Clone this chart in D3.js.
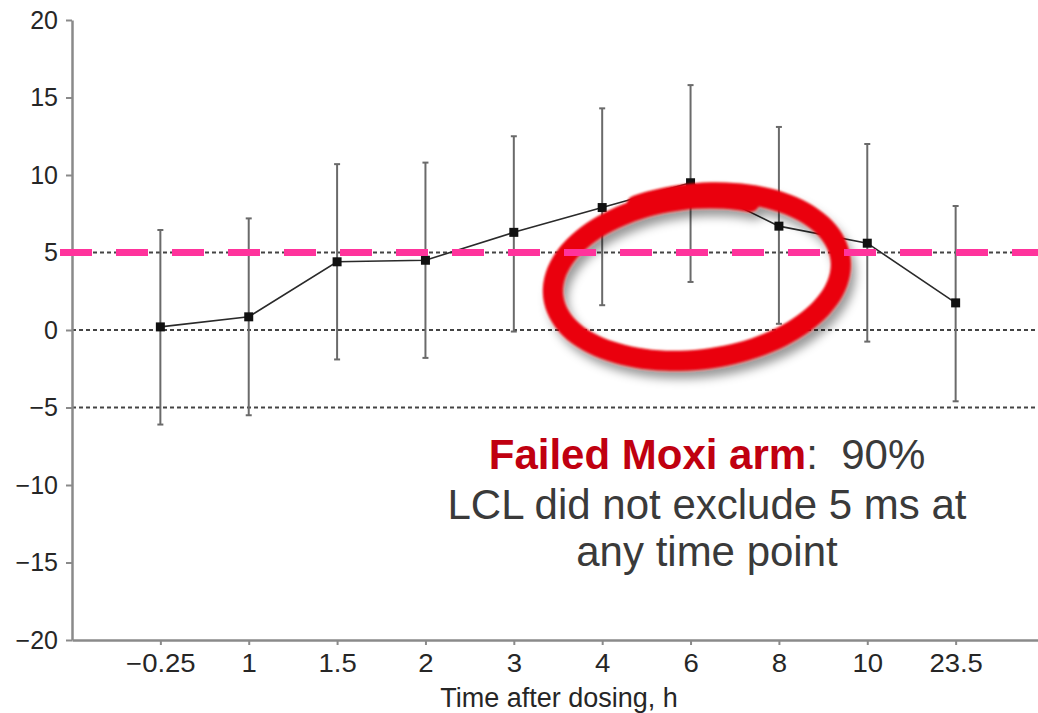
<!DOCTYPE html>
<html>
<head>
<meta charset="utf-8">
<script src="https://cdn.jsdelivr.net/npm/d3@7"></script>
<style>
  body { margin: 0; background: #fff; }
  svg { display: block; font-family: "Liberation Sans", Arial, sans-serif; }
</style>
</head>
<body>
<div id="chart"></div>
<script>
// time points (h) and QTc change estimates with 90% CI
var times = ["\u22120.25", "1", "1.5", "2", "3", "4", "6", "8", "10", "23.5"];
var means = [0.2, 0.85, 4.4, 4.5, 6.3, 7.9, 9.5, 6.7, 5.6, 1.75];
var upper = [6.45, 7.2, 10.7, 10.8, 12.5, 14.3, 15.8, 13.1, 12.0, 8.0];
var lower = [-6.1, -5.5, -1.9, -1.8, -0.1, 1.6, 3.1, 0.4, -0.75, -4.6];
var yTicks = [-20, -15, -10, -5, 0, 5, 10, 15, 20];
var refLines = [-5, 0, 5];
var threshold = 5;

var width = 1038, height = 713;

var svg = d3.select('#chart').append('svg')
    .attr('width', width)
    .attr('height', height);

var x = d3.scalePoint().domain(times).range([72, 1044]).padding(1);
var y = d3.scaleLinear().domain([-20, 20]).range([640, 20]);

var data = times.map(function (t, i) {
    return { t: t, m: means[i], hi: upper[i], lo: lower[i] };
});

// dotted reference lines
svg.selectAll('line.ref')
    .data(refLines).enter().append('line')
    .attr('class', 'ref')
    .attr('x1', 72).attr('x2', width)
    .attr('y1', function (d) { return y(d); })
    .attr('y2', function (d) { return y(d); })
    .attr('stroke', '#444')
    .attr('stroke-width', 2)
    .attr('stroke-dasharray', '4,3');

// axes
var yAxis = svg.append('g')
    .attr('transform', 'translate(72,0)')
    .call(d3.axisLeft(y).tickValues(yTicks).tickSize(6).tickSizeOuter(0).tickPadding(8));

var xAxis = svg.append('g')
    .attr('transform', 'translate(0,640)')
    .call(d3.axisBottom(x).tickSize(5).tickSizeOuter(0).tickPadding(9));

[yAxis, xAxis].forEach(function (ax) {
    ax.select('.domain').attr('stroke', '#8a8a8a').attr('stroke-width', 2.5);
    ax.selectAll('.tick line').attr('stroke', '#8a8a8a').attr('stroke-width', 2);
    ax.selectAll('.tick text')
        .attr('fill', '#262626')
        .style('font-family', '"Liberation Sans", Arial, sans-serif')
        .style('font-size', '25px');
});
xAxis.selectAll('.tick text')
    .attr('transform', 'scale(1.1,1)');

svg.append('text')
    .attr('x', 559).attr('y', 707)
    .attr('text-anchor', 'middle')
    .attr('fill', '#262626')
    .style('font-size', '27px')
    .text('Time after dosing, h');

// error bars
var bars = svg.selectAll('g.bar')
    .data(data).enter().append('g')
    .attr('class', 'bar');

bars.append('line')
    .attr('x1', function (d) { return x(d.t); })
    .attr('x2', function (d) { return x(d.t); })
    .attr('y1', function (d) { return y(d.lo); })
    .attr('y2', function (d) { return y(d.hi); })
    .attr('stroke', '#6a6a6a')
    .attr('stroke-width', 2);

['hi', 'lo'].forEach(function (k) {
    bars.append('line')
        .attr('x1', function (d) { return x(d.t) - 3; })
        .attr('x2', function (d) { return x(d.t) + 3; })
        .attr('y1', function (d) { return y(d[k]); })
        .attr('y2', function (d) { return y(d[k]); })
        .attr('stroke', '#6a6a6a')
        .attr('stroke-width', 2);
});

// mean line + markers
var line = d3.line()
    .x(function (d) { return x(d.t); })
    .y(function (d) { return y(d.m); });

svg.append('path')
    .datum(data)
    .attr('d', line)
    .attr('fill', 'none')
    .attr('stroke', '#2a2a2a')
    .attr('stroke-width', 1.6);

svg.selectAll('rect.pt')
    .data(data).enter().append('rect')
    .attr('class', 'pt')
    .attr('x', function (d) { return x(d.t) - 4.5; })
    .attr('y', function (d) { return y(d.m) - 4.5; })
    .attr('width', 9).attr('height', 9)
    .attr('fill', '#111');

// hand drawn red circle
var defs = svg.append('defs');
var f = defs.append('filter').attr('id', 'soft')
    .attr('x', '-20%').attr('y', '-30%').attr('width', '140%').attr('height', '160%');
f.append('feGaussianBlur').attr('in', 'SourceGraphic').attr('stdDeviation', 1.3).attr('result', 'b');
f.append('feDropShadow')
    .attr('in', 'b')
    .attr('dx', 5).attr('dy', 8).attr('stdDeviation', 5)
    .attr('flood-color', '#000').attr('flood-opacity', 0.4);

var cx = x('6') + 5, cy = y(3.45), rx = 146, ry = 83, rot = -7 * Math.PI / 180;
var loop = d3.range(-110, 300, 6).map(function (a) {
    var th = a * Math.PI / 180;
    var s = 1 - 0.08 * Math.max(0, (a - 150) / 150);
    var px = rx * s * Math.cos(th), py = ry * s * Math.sin(th);
    return [cx + px * Math.cos(rot) - py * Math.sin(rot),
            cy + px * Math.sin(rot) + py * Math.cos(rot)];
});
svg.append('path')
    .attr('d', d3.line().curve(d3.curveCatmullRom)(loop))
    .attr('fill', 'none')
    .attr('stroke', '#ea0008')
    .attr('stroke-width', 20)
    .attr('stroke-linecap', 'round')
    .attr('filter', 'url(#soft)');

// pink threshold line
svg.append('line')
    .attr('x1', 60).attr('x2', width)
    .attr('y1', y(threshold)).attr('y2', y(threshold))
    .attr('stroke', '#ff339c')
    .attr('stroke-width', 7)
    .attr('stroke-dasharray', '32,24');

// annotation
var note = svg.append('text')
    .attr('text-anchor', 'middle')
    .attr('fill', '#3a3a3a')
    .style('font-size', '42px');
var l1 = note.append('tspan').attr('x', 707).attr('y', 469);
l1.append('tspan').attr('fill', '#c00010').attr('font-weight', 'bold').text('Failed Moxi arm');
l1.append('tspan').text(':\u00a0 90%');
note.append('tspan').attr('x', 707).attr('y', 519).text('LCL did not exclude 5 ms at');
note.append('tspan').attr('x', 707).attr('y', 566).text('any time point');
</script>
</body>
</html>
